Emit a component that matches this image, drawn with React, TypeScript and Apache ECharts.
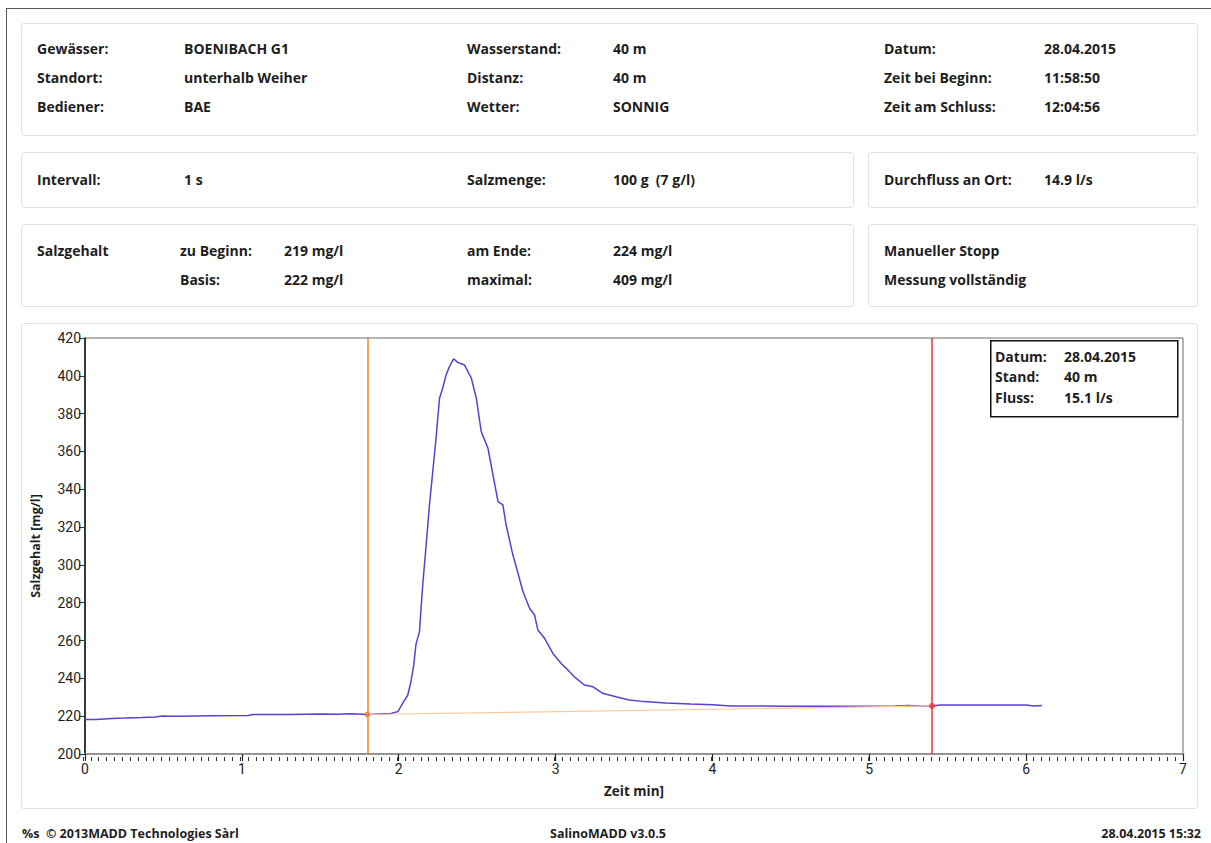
import React, { useEffect, useRef } from "react";
import * as echarts from "echarts";

// ---- Data ----
const timeMin = [
  0.0, 0.07, 0.17, 0.25, 0.36, 0.45, 0.49, 0.55, 0.6, 0.8, 1.04, 1.07, 1.3, 1.51, 1.6, 1.7, 1.8, 1.95,
  1.995, 2.026, 2.058, 2.078, 2.096, 2.11, 2.132, 2.153, 2.175, 2.196, 2.217, 2.238, 2.26, 2.28, 2.302,
  2.323, 2.35, 2.376, 2.408, 2.42, 2.463, 2.495, 2.526, 2.569, 2.601, 2.633, 2.664, 2.685, 2.728, 2.749,
  2.792, 2.834, 2.866, 2.887, 2.93, 2.983, 3.036, 3.068, 3.12, 3.184, 3.237, 3.3, 3.385, 3.47, 3.566,
  3.7, 3.86, 4.0, 4.12, 4.5, 5.0, 5.16, 5.25, 5.35, 5.4, 5.45, 5.7, 6.0, 6.05, 6.1,
];
const salzgehalt = [
  218.3, 218.2, 218.8, 219.0, 219.3, 219.6, 220.1, 219.9, 220.0, 220.2, 220.4, 220.9, 220.9, 221.2, 221.0,
  221.3, 220.9, 221.4, 222.4, 226.9, 231.2, 238.3, 247.1, 258.0, 264.7, 289.4, 310.5, 331.7, 349.3, 367.0,
  388.1, 393.4, 400.4, 404.8, 409.0, 407.1, 406.1, 405.7, 398.7, 388.1, 370.5, 361.7, 347.6, 333.5, 331.7,
  321.1, 305.2, 299.0, 285.9, 277.1, 273.5, 265.6, 261.2, 253.2, 247.9, 245.3, 240.8, 236.5, 235.6, 232.1,
  230.3, 228.6, 227.7, 227.0, 226.4, 226.0, 225.4, 225.3, 225.3, 225.4, 225.7, 225.3, 225.4, 225.9, 225.9,
  225.9, 225.4, 225.6,
];
const baselineTime = [1.8, 5.4];
const baselineValue = [220.9, 225.4];
const markerStart = 1.8;
const markerEnd = 5.4;
const yTicks = { min: 200, max: 420, interval: 20 };
const xTicks = { min: 0, max: 7, interval: 1, minorInterval: 0.05 };

const header1 = [
  ["Gewässer:", "BOENIBACH G1", "Wasserstand:", "40 m", "Datum:", "28.04.2015"],
  ["Standort:", "unterhalb Weiher", "Distanz:", "40 m", "Zeit bei Beginn:", "11:58:50"],
  ["Bediener:", "BAE", "Wetter:", "SONNIG", "Zeit am Schluss:", "12:04:56"],
];
const legendRows = [
  ["Datum:", "28.04.2015"],
  ["Stand:", "40 m"],
  ["Fluss:", "15.1 l/s"],
];

const FONT = "'Open Sans', 'Noto Sans', sans-serif";
const AXFONT = "'Roboto', sans-serif";
const TXT = "#1e1e1e";

const panel = (l: number, t: number, w: number, h: number): React.CSSProperties => ({
  position: "absolute",
  left: l,
  top: t,
  width: w,
  height: h,
  boxSizing: "border-box",
  border: "1px solid #dde2e8",
  borderRadius: 3,
  background: "#fff",
});

const T = (x: number, y: number, s: string, extra: React.CSSProperties = {}) => (
  <div
    key={x + "_" + y + s}
    style={{
      position: "absolute",
      left: x,
      top: y - 10,
      fontFamily: FONT,
      fontWeight: 700,
      fontSize: 14,
      lineHeight: "20px",
      color: TXT,
      whiteSpace: "nowrap",
      ...extra,
    }}
  >
    {s}
  </div>
);

export default function App() {
  const ref = useRef<HTMLDivElement>(null);

  useEffect(() => {
    if (!ref.current) return;
    const chart = echarts.init(ref.current, null, { renderer: "svg" });
    const mainData = timeMin.map((t, i) => [t, salzgehalt[i]]);
    const baseData = baselineTime.map((t, i) => [t, baselineValue[i]]);
    chart.setOption({
      animation: false,
      backgroundColor: "transparent",
      grid: [
        {
          left: 62,
          top: 15,
          right: 14,
          bottom: 54,
          show: true,
          borderColor: "#6a6a6a",
          borderWidth: 1,
        },
        // thin strip under the plot that carries the minor tick marks
        { left: 62, right: 14, top: 434, height: 4, show: false },
      ],
      xAxis: [
        {
          type: "value",
          min: xTicks.min,
          max: xTicks.max,
          interval: xTicks.interval,
          name: "Zeit min]",
          nameLocation: "middle",
          nameGap: 30,
          nameTextStyle: { fontFamily: FONT, fontWeight: 700, fontSize: 13.5, color: TXT },
          axisLine: { show: true, lineStyle: { color: "#8a8a8a", width: 1.5 } },
          axisTick: { show: true, length: 7, lineStyle: { color: "#222", width: 1.2 } },
          axisLabel: { fontFamily: AXFONT, fontSize: 14, color: TXT, margin: 8 },
          splitLine: { show: false },
        },
        {
          type: "value",
          gridIndex: 1,
          min: xTicks.min,
          max: xTicks.max,
          interval: xTicks.minorInterval,
          axisLine: { show: false },
          axisTick: { show: false },
          axisLabel: { show: false },
          splitLine: { show: true, lineStyle: { color: "#333", width: 1 } },
        },
      ],
      yAxis: [
        {
          type: "value",
          min: yTicks.min,
          max: yTicks.max,
          interval: yTicks.interval,
          name: "Salzgehalt [mg/l]",
          nameLocation: "middle",
          nameGap: 43,
          nameTextStyle: { fontFamily: FONT, fontWeight: 700, fontSize: 12.5, color: TXT },
          axisLine: { show: true, lineStyle: { color: "#111", width: 1.5 } },
          axisTick: { show: true, length: 6, lineStyle: { color: "#333" } },
          axisLabel: { fontFamily: AXFONT, fontSize: 14, color: TXT, margin: 4 },
          splitLine: { show: false },
        },
        {
          type: "value",
          gridIndex: 1,
          min: 0,
          max: 1,
          show: false,
          splitLine: { show: false },
        },
      ],
      series: [
        {
          type: "line",
          data: mainData,
          showSymbol: false,
          symbol: "none",
          lineStyle: { color: "#5b3fd0", width: 1.5 },
          z: 3,
          markLine: {
            silent: true,
            symbol: ["none", "none"],
            label: { show: false },
            data: [
              { xAxis: markerStart, lineStyle: { color: "#f0862a", width: 1.5, type: "solid" } },
              { xAxis: markerEnd, lineStyle: { color: "#e8333b", width: 1.5, type: "solid" } },
            ],
          },
        },
        {
          type: "line",
          data: baseData,
          symbol: "none",
          lineStyle: { color: "#fbc89b", width: 1.2 },
          z: 4,
        },
        {
          type: "scatter",
          data: [
            { value: baseData[0], itemStyle: { color: "#f07a3a" } },
            { value: baseData[1], itemStyle: { color: "#e8333b" } },
          ],
          symbolSize: 6,
          z: 5,
        },
      ],
      graphic: [
        {
          type: "rect",
          left: 969,
          top: 17,
          shape: { width: 187, height: 76 },
          style: { fill: "#fff", stroke: "#111", lineWidth: 1.5 },
          z: 10,
        },
        ...legendRows.flatMap((r, i) => [
          {
            type: "text",
            left: 974,
            top: 26 + i * 20.5,
            style: { text: r[0], font: `700 14px ${FONT}`, fill: TXT },
            z: 11,
          },
          {
            type: "text",
            left: 1043,
            top: 26 + i * 20.5,
            style: { text: r[1], font: `700 14px ${FONT}`, fill: TXT },
            z: 11,
          },
        ]),
      ],
    });
    return () => chart.dispose();
  }, []);

  return (
    <div
      style={{
        position: "fixed",
        left: 0,
        top: 0,
        width: 1211,
        height: 843,
        background: "#fff",
        overflow: "hidden",
      }}
    >
      <div
        style={{
          position: "absolute",
          left: 6,
          top: 8,
          width: 1300,
          height: 1000,
          borderLeft: "1.5px solid #555",
          borderTop: "1.5px solid #555",
        }}
      />
      {/* Panel 1 */}
      <div style={panel(21, 23, 1177, 113)} />
      {header1.map((row, i) =>
        [37, 184, 467, 613, 884, 1044].map((x, j) => T(x, 49 + i * 29, row[j]))
      )}
      {/* Panel 2 */}
      <div style={panel(21, 152, 833, 56)} />
      <div style={panel(868, 152, 330, 56)} />
      {T(37, 180, "Intervall:")}
      {T(184, 180, "1 s")}
      {T(467, 180, "Salzmenge:")}
      {T(613, 180, "100 g  (7 g/l)", { whiteSpace: "pre" })}
      {T(884, 180, "Durchfluss an Ort:")}
      {T(1044, 180, "14.9 l/s")}
      {/* Panel 3 */}
      <div style={panel(21, 224, 833, 83)} />
      <div style={panel(868, 224, 330, 83)} />
      {T(37, 251, "Salzgehalt")}
      {T(180, 251, "zu Beginn:")}
      {T(284, 251, "219 mg/l")}
      {T(180, 280, "Basis:")}
      {T(284, 280, "222 mg/l")}
      {T(467, 251, "am Ende:")}
      {T(613, 251, "224 mg/l")}
      {T(467, 280, "maximal:")}
      {T(613, 280, "409 mg/l")}
      {T(884, 251, "Manueller Stopp")}
      {T(884, 280, "Messung vollständig")}
      {/* Chart panel */}
      <div style={panel(21, 323, 1177, 486)} />
      <div ref={ref} style={{ position: "absolute", left: 21, top: 323, width: 1176, height: 485 }} />
      {/* Footer */}
      {T(22, 834, "%s  © 2013MADD Technologies Sàrl", { fontSize: 12.5, whiteSpace: "pre" })}
      {T(550, 834, "SalinoMADD v3.0.5", { fontSize: 12.5 })}
      <div
        style={{
          position: "absolute",
          right: 10,
          top: 824,
          fontFamily: FONT,
          fontWeight: 700,
          fontSize: 12.5,
          lineHeight: "20px",
          color: TXT,
          whiteSpace: "nowrap",
        }}
      >
        28.04.2015 15:32
      </div>
    </div>
  );
}
